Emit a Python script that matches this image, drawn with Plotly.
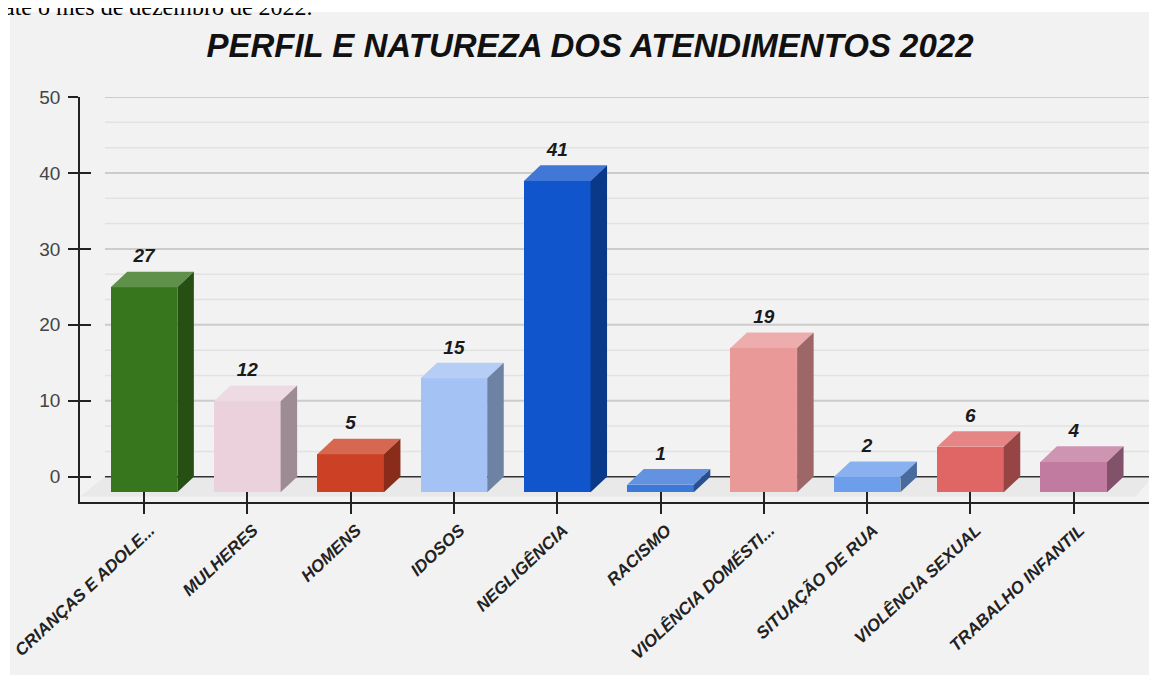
import plotly.graph_objects as go

CATEGORIES = [
    "CRIANÇAS E ADOLE...", "MULHERES", "HOMENS", "IDOSOS", "NEGLIGÊNCIA",
    "RACISMO", "VIOLÊNCIA DOMÉSTI...", "SITUAÇÃO DE RUA", "VIOLÊNCIA SEXUAL",
    "TRABALHO INFANTIL",
]
VALUES = [27, 12, 5, 15, 41, 1, 19, 2, 6, 4]
FRONT_COLORS = [
    "#38761d", "#ead1dc", "#cc4125", "#a4c2f4", "#1155cc",
    "#3c78d8", "#ea9999", "#6d9eeb", "#e06666", "#c27ba0",
]
Y_TICKS = [0, 10, 20, 30, 40, 50]

TITLE = "PERFIL E NATUREZA DOS ATENDIMENTOS 2022"
CAPTION = "até o mês de dezembro de 2022."

FONT = "Liberation Sans, Arial, sans-serif"
BG = "#f2f2f2"

# pseudo-3d geometry, in axis units
BAR_W = 0.645
DEPTH_X = 0.16
DEPTH_Y = 2.05
X_RANGE = [-0.6196, 9.758]
Y_RANGE = [-3.33, 50]


def shade(hex_color, f):
    rgb = [int(hex_color[i:i + 2], 16) for i in (1, 3, 5)]
    if f >= 0:
        rgb = [c + (255 - c) * f for c in rgb]
    else:
        rgb = [c * (1 + f) for c in rgb]
    return "#%02x%02x%02x" % tuple(int(round(c)) for c in rgb)


xs = list(range(len(CATEGORIES)))
fig = go.Figure()

# front faces
fig.add_trace(go.Bar(
    x=xs, y=VALUES, base=[-DEPTH_Y] * len(VALUES), width=BAR_W,
    marker=dict(color=FRONT_COLORS, line=dict(width=0)),
    hoverinfo="skip", showlegend=False,
))

# top and side faces
for x, v, c in zip(xs, VALUES, FRONT_COLORS):
    xl, xr = x - BAR_W / 2, x + BAR_W / 2
    fig.add_trace(go.Scatter(
        x=[xl, xr, xr + DEPTH_X, xl + DEPTH_X, xl],
        y=[v - DEPTH_Y, v - DEPTH_Y, v, v, v - DEPTH_Y],
        fill="toself", fillcolor=shade(c, 0.2), mode="lines",
        line=dict(width=0), hoverinfo="skip", showlegend=False,
    ))
    fig.add_trace(go.Scatter(
        x=[xr, xr + DEPTH_X, xr + DEPTH_X, xr, xr],
        y=[-DEPTH_Y, 0, v, v - DEPTH_Y, -DEPTH_Y],
        fill="toself", fillcolor=shade(c, -0.33), mode="lines",
        line=dict(width=0), hoverinfo="skip", showlegend=False,
    ))

# value labels
fig.add_trace(go.Scatter(
    x=xs, y=[v + 1.85 for v in VALUES], mode="text",
    text=["<b><i>%d</i></b>" % v for v in VALUES],
    textfont=dict(family=FONT, size=19, color="#1a1a1a"),
    hoverinfo="skip", showlegend=False,
))

# invisible trace to anchor the overlay axes (crossing tick marks)
fig.add_trace(go.Scatter(
    x=[0], y=[0], xaxis="x2", yaxis="y2", mode="markers",
    marker=dict(opacity=0), hoverinfo="skip", showlegend=False,
))

shapes = [
    # grey card
    dict(type="rect", xref="paper", yref="paper", x0=-0.0653, x1=1.03,
         y0=-0.5, y1=1.2099, fillcolor=BG, line=dict(width=0), layer="below"),
    # floor
    dict(type="path", xref="x", yref="y", layer="below",
         path="M -0.378,0 L 9.758,0 L 9.6,-2.6 L -0.62,-2.6 Z",
         fillcolor="#e9e9e9", line=dict(width=0)),
]
# back-wall grid lines: major every 10, two minor between
step = Y_TICKS[1] - Y_TICKS[0]
for t in Y_TICKS[:-1]:
    for k in (1, 2):
        yv = t + step * k / 3
        shapes.append(dict(type="line", xref="x", yref="y", layer="below",
                           x0=-0.378, x1=X_RANGE[1], y0=yv, y1=yv,
                           line=dict(color="#e2e2e2", width=1.5)))
for t in Y_TICKS:
    shapes.append(dict(type="line", xref="x", yref="y", layer="below",
                       x0=-0.378, x1=X_RANGE[1], y0=t, y1=t,
                       line=dict(color="#333333" if t == 0 else "#cccccc",
                                 width=1.5 if t == 0 else 2)))

fig.update_layout(
    width=1157, height=675,
    margin=dict(l=72, r=13, t=89, b=181),
    paper_bgcolor="white", plot_bgcolor=BG,
    font=dict(family=FONT, color="#333333"),
    bargap=0,
    shapes=shapes,
    title=dict(
        text="<b><i>%s</i></b>" % TITLE, xref="container", yref="container",
        x=0.503, y=0.945, xanchor="center", yanchor="middle",
        font=dict(family=FONT, size=33, color="#111111"),
    ),
    annotations=[dict(
        text=CAPTION, xref="paper", yref="paper", x=-0.0727, y=1.185,
        xanchor="left", yanchor="bottom", showarrow=False,
        font=dict(family="Liberation Serif, Times New Roman, serif", size=24, color="black"),
    )],
    xaxis=dict(
        range=X_RANGE, tickmode="array", tickvals=xs,
        ticktext=["<b><i>%s</i></b>" % c for c in CATEGORIES],
        tickangle=-43, tickfont=dict(size=17, color="#222222"),
        ticklabelstandoff=0, ticklabelshift=6, ticklabeloverflow="allow",
        automargin=False,
        ticks="outside", ticklen=10, tickwidth=1.5, tickcolor="#222222",
        showline=True, linecolor="#222222", linewidth=1.5,
        showgrid=False, zeroline=False, fixedrange=True,
    ),
    yaxis=dict(
        range=Y_RANGE, tickmode="array", tickvals=Y_TICKS,
        tickfont=dict(size=19, color="#444444"),
        ticklabelstandoff=4, automargin=False,
        ticks="outside", ticklen=10, tickwidth=1.5, tickcolor="#222222",
        showline=True, linecolor="#222222", linewidth=1.5,
        showgrid=False, zeroline=False, fixedrange=True,
    ),
    xaxis2=dict(
        range=X_RANGE, overlaying="x", anchor="y", side="bottom",
        tickmode="array", tickvals=xs, showticklabels=False,
        ticks="inside", ticklen=10, tickwidth=1.5, tickcolor="#222222",
        showline=False, showgrid=False, zeroline=False, automargin=False,
    ),
    yaxis2=dict(
        range=Y_RANGE, overlaying="y", anchor="x", side="left",
        tickmode="array", tickvals=Y_TICKS, showticklabels=False,
        ticks="inside", ticklen=11, tickwidth=1.5, tickcolor="#222222",
        showline=False, showgrid=False, zeroline=False, automargin=False,
    ),
)

fig.write_html("out.html")
